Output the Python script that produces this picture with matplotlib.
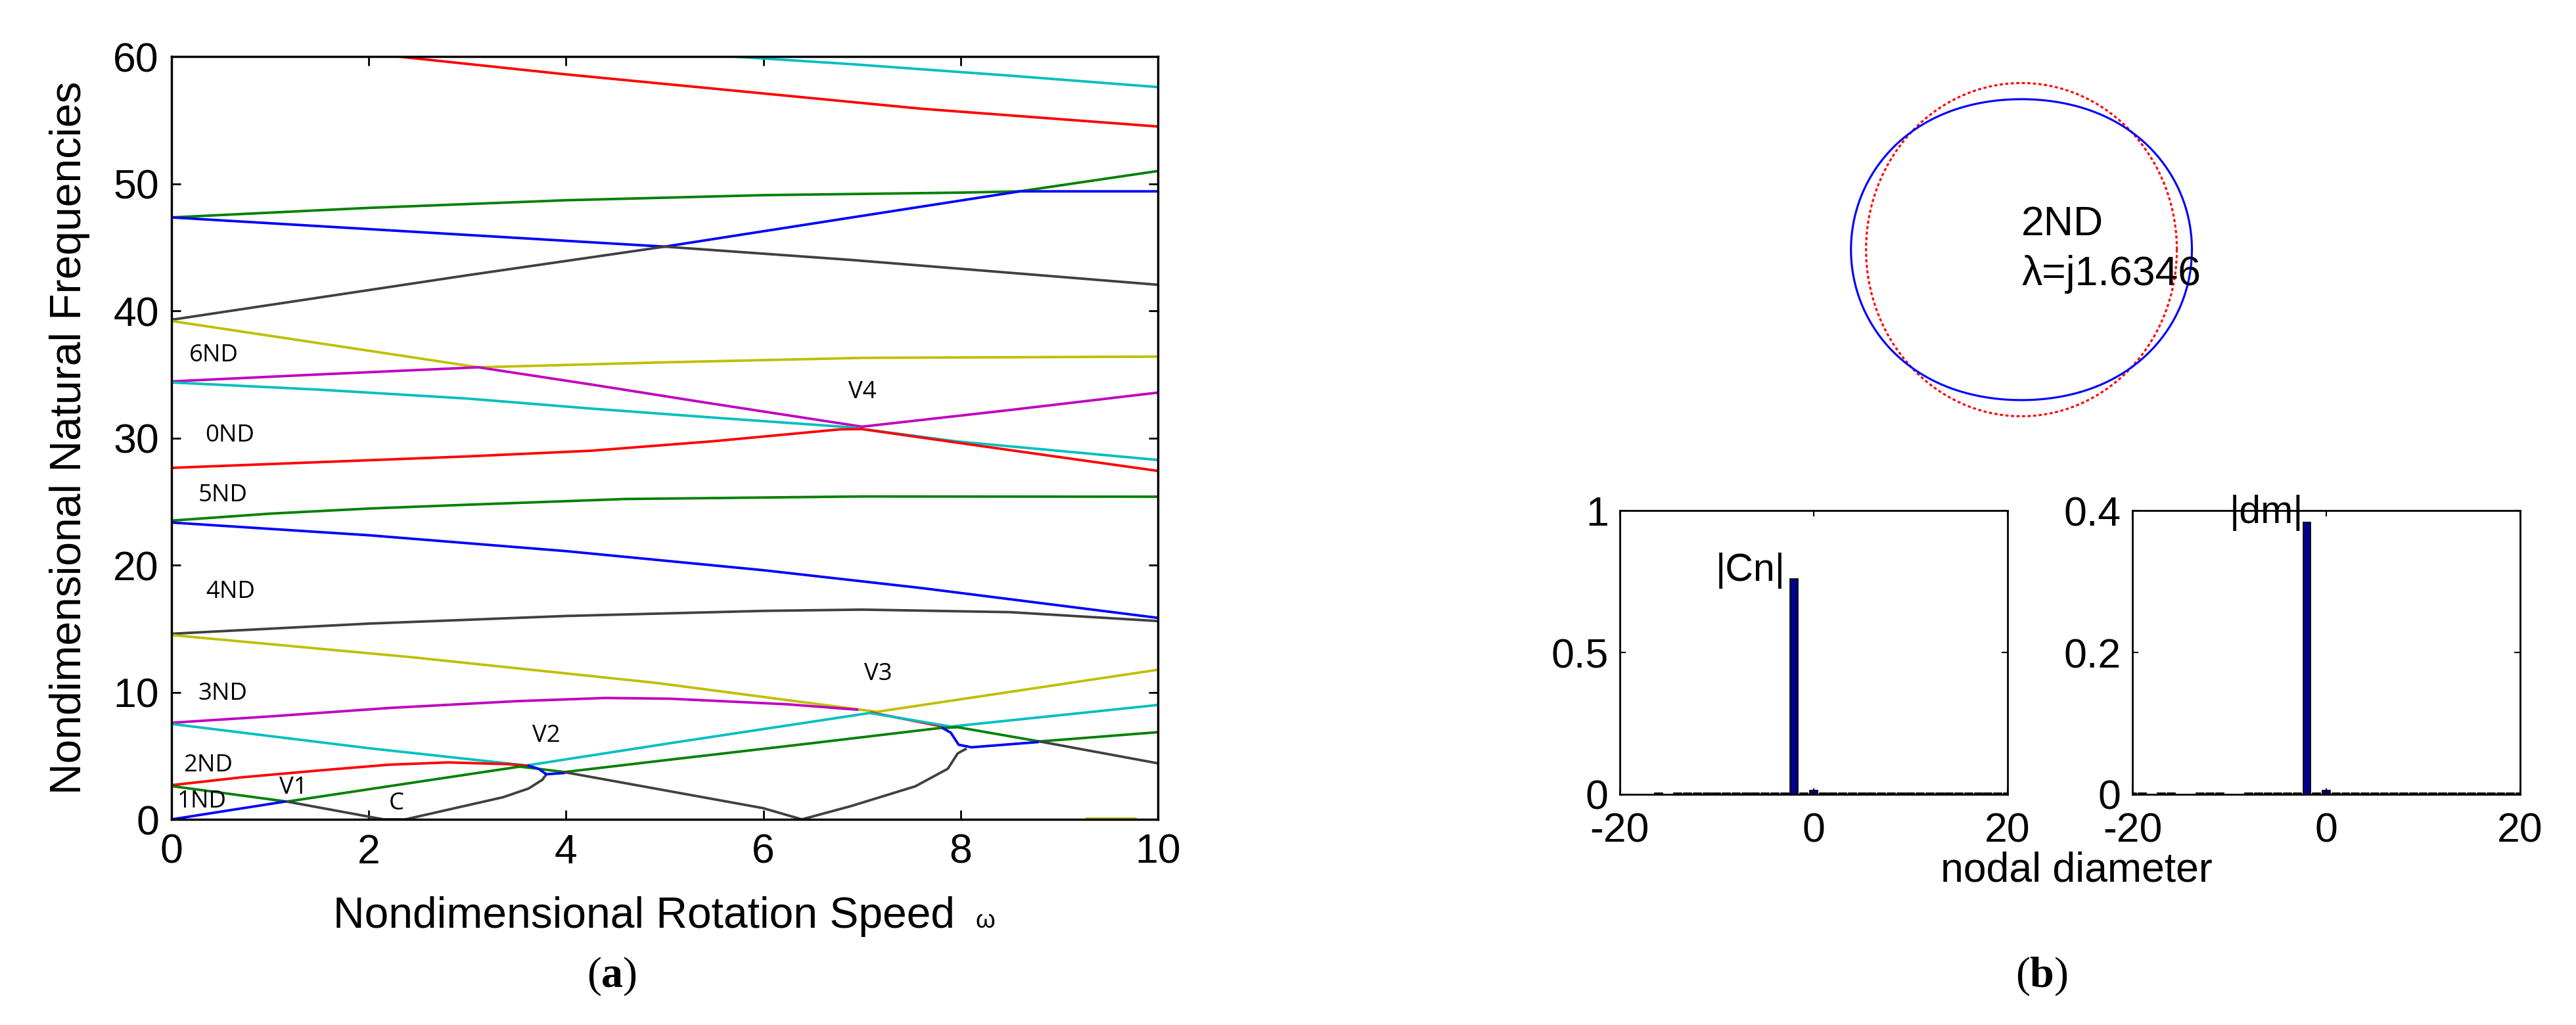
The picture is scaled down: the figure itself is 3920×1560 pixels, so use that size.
import numpy as np
import matplotlib
matplotlib.use("Agg")
import matplotlib.pyplot as plt

plt.rcParams["font.family"] = ["Liberation Sans", "DejaVu Sans"]
plt.rcParams["mathtext.fontset"] = "custom"
plt.rcParams["mathtext.rm"] = "Liberation Serif"
plt.rcParams["mathtext.bf"] = "Liberation Serif:bold"
plt.rcParams["axes.unicode_minus"] = False

BLUE, GREEN, RED = "#0000ff", "#008000", "#ff0000"
CYAN, MAGENTA, YELLOW, GRAY = "#00bfbf", "#bf00bf", "#bfbf00", "#404040"

# --- (a) natural frequency branches vs rotation speed ---
red_top_x = [2.3, 4.0, 6.0, 7.6, 10.0]
red_top_y = [60.0, 58.6, 57.1, 55.9, 54.5]
cyan_top_x = [5.7, 6.9, 8.5, 10.0]
cyan_top_y = [60.0, 59.4, 58.5, 57.6]
green_top_x = [0.0, 2.0, 4.0, 6.0, 8.0, 8.6, 10.0]
green_top_y = [47.35, 48.1, 48.7, 49.1, 49.3, 49.4, 51.0]
blue_top_x = [0.0, 2.5, 5.0, 6.9, 8.6, 10.0]
blue_top_y = [47.35, 46.2, 45.05, 47.35, 49.4, 49.4]
gray_top_x = [0.0, 3.0, 5.0, 6.9, 10.0]
gray_top_y = [39.3, 42.8, 45.05, 44.0, 42.05]
yellow_6_x = [0.0, 1.5, 3.11, 5.0, 7.0, 10.0]
yellow_6_y = [39.2, 37.45, 35.56, 35.95, 36.3, 36.4]
magenta_6_x = [0.0, 1.5, 3.11, 4.26, 5.4, 7.0, 8.5, 10.0]
magenta_6_y = [34.45, 35.0, 35.56, 34.2, 32.8, 30.89, 32.2, 33.57]
cyan_0_x = [0.0, 1.5, 3.0, 4.26, 5.5, 6.85, 7.96, 10.0]
cyan_0_y = [34.37, 33.8, 33.1, 32.31, 31.6, 30.86, 29.73, 28.27]
red_0_x = [0.0, 3.0, 4.26, 5.5, 6.78, 7.0, 7.95, 9.0, 10.0]
red_0_y = [27.65, 28.55, 29.0, 29.75, 30.68, 30.7, 29.65, 28.5, 27.41]
green_5_x = [0.0, 1.0, 2.0, 3.0, 4.6, 7.0, 10.0]
green_5_y = [23.5, 24.05, 24.45, 24.75, 25.2, 25.4, 25.38]
blue_4_x = [0.0, 2.0, 4.0, 6.0, 7.6, 10.0]
blue_4_y = [23.35, 22.35, 21.1, 19.6, 18.2, 15.85]
gray_4_x = [0.0, 2.0, 4.0, 6.0, 7.0, 8.5, 10.0]
gray_4_y = [14.6, 15.4, 16.0, 16.4, 16.5, 16.3, 15.6]
yellow_3_x = [0.0, 2.43, 4.92, 7.15, 10.0]
yellow_3_y = [14.5, 12.76, 10.73, 8.46, 11.77]
magenta_3_x = [0.0, 1.0, 2.22, 3.5, 4.4, 5.06, 6.23, 6.95]
magenta_3_y = [7.6, 8.1, 8.77, 9.3, 9.55, 9.49, 9.06, 8.63]
red_3_x = [7.1, 7.87]
red_3_y = [8.4, 7.22]
cyan_3_x = [0.0, 1.0, 2.0, 3.0, 3.6, 5.06, 7.08, 7.9, 10.0]
cyan_3_y = [7.51, 6.55, 5.6, 4.75, 4.24, 6.0, 8.37, 7.3, 9.0]
red_2_x = [0.0, 0.7, 1.5, 2.2, 2.8, 3.4, 3.6]
red_2_y = [2.69, 3.3, 3.85, 4.3, 4.48, 4.35, 4.22]
green_1_x = [0.0, 1.17, 2.3, 3.53, 3.75, 3.98, 5.0, 6.5, 7.77, 7.97, 8.8, 10.0]
green_1_y = [2.62, 1.40, 2.72, 4.15, 3.95, 3.72, 4.65, 6.0, 7.17, 7.25, 6.13, 6.86]
blue_1_x = [0.0, 1.15]
blue_1_y = [0.0, 1.4]
gray_c_x = [1.17, 2.15, 2.37, 2.87, 3.36, 3.62, 3.76, 3.80]
gray_c_y = [1.40, 0.0, 0.0, 0.88, 1.74, 2.43, 3.12, 3.55]
blue_v2_x = [3.62, 3.72, 3.80, 3.98]
blue_v2_y = [4.22, 3.98, 3.55, 3.65]
gray_mid_x = [3.98, 4.92, 6.0, 6.39]
gray_mid_y = [3.72, 2.4, 0.88, 0.0]
gray_v3_x = [6.39, 6.89, 7.54, 7.87, 7.97, 8.05]
gray_v3_y = [0.0, 1.05, 2.6, 3.98, 5.19, 5.53]
blue_v3_x = [7.82, 7.90, 7.98, 8.11, 8.78]
blue_v3_y = [7.17, 6.82, 5.87, 5.67, 6.08]
gray_end_x = [8.8, 10.0]
gray_end_y = [6.13, 4.41]
yellow_low_x = [9.28, 9.77]
yellow_low_y = [0.08, 0.08]

branches = [
    (red_top_x, red_top_y, RED), (cyan_top_x, cyan_top_y, CYAN),
    (green_top_x, green_top_y, GREEN), (blue_top_x, blue_top_y, BLUE),
    (gray_top_x, gray_top_y, GRAY), (yellow_6_x, yellow_6_y, YELLOW),
    (magenta_6_x, magenta_6_y, MAGENTA), (cyan_0_x, cyan_0_y, CYAN),
    (red_0_x, red_0_y, RED), (green_5_x, green_5_y, GREEN),
    (blue_4_x, blue_4_y, BLUE), (gray_4_x, gray_4_y, GRAY),
    (yellow_3_x, yellow_3_y, YELLOW), (magenta_3_x, magenta_3_y, MAGENTA),
    (red_3_x, red_3_y, RED), (cyan_3_x, cyan_3_y, CYAN),
    (red_2_x, red_2_y, RED), (green_1_x, green_1_y, GREEN),
    (blue_1_x, blue_1_y, BLUE), (gray_c_x, gray_c_y, GRAY),
    (blue_v2_x, blue_v2_y, BLUE), (gray_mid_x, gray_mid_y, GRAY),
    (gray_v3_x, gray_v3_y, GRAY), (blue_v3_x, blue_v3_y, BLUE),
    (gray_end_x, gray_end_y, GRAY), (yellow_low_x, yellow_low_y, YELLOW),
]

mode_labels = ["6ND", "0ND", "5ND", "4ND", "3ND", "2ND", "1ND"]
mode_label_x = [0.18, 0.34, 0.27, 0.35, 0.27, 0.12, 0.06]
mode_label_y = [36.5, 30.2, 25.5, 17.9, 9.9, 4.25, 1.4]
veer_labels = ["V1", "C", "V2", "V3", "V4"]
veer_label_x = [1.09, 2.2, 3.66, 7.02, 6.86]
veer_label_y = [2.5, 1.24, 6.56, 11.4, 33.6]

# --- (b) mode shape and spectra ---
mode_name = "2ND"
mode_lambda = "λ=j1.6346"
nodal_count = 2
mode_amplitude = 0.097

nd = list(range(-20, 21))
cn_values = [0, 0, 0, 0, 0.005, 0] + [0.005] * 12 + [0.76, 0.005, 0.015] + [0.005] * 20
dm_values = ([0.002, 0.002, 0, 0.002, 0.002, 0, 0, 0.002, 0.002, 0.002, 0, 0]
             + [0.002] * 6 + [0.383, 0.002, 0.006] + [0.002] * 20)

fig = plt.figure(figsize=(15.68, 6.24), dpi=250)

ax = fig.add_axes([0.0666, 0.2006, 0.3829, 0.7442])
for bx, by, col in branches:
    ax.plot(bx, by, color=col, linewidth=1.1, solid_joinstyle="round")
ax.set_xlim(0, 10)
ax.set_ylim(0, 60)
ax.set_xticks(range(0, 11, 2))
ax.set_yticks(range(0, 61, 10))
ax.tick_params(direction="in", length=4, width=0.8, top=True, right=True,
               labelsize=18)
ax.tick_params(axis="x", pad=6)
ax.tick_params(axis="y", pad=5.5)
for sp in ax.spines.values():
    sp.set_linewidth(1.0)
for lab, lx, ly in zip(mode_labels, mode_label_x, mode_label_y):
    ax.text(lx, ly, lab, fontsize=10.5, family="Open Sans", va="center", ha="left")
for lab, lx, ly in zip(veer_labels, veer_label_x, veer_label_y):
    ax.text(lx, ly, lab, fontsize=10.5, family="Open Sans", va="center", ha="left")

fig.text(980 / 3920, 1 - 1412 / 1560, "Nondimensional Rotation Speed",
         fontsize=19, ha="center", va="baseline")
fig.text(1485 / 3920, 1 - 1412 / 1560, "ω", fontsize=11, ha="left", va="baseline")
fig.text(106 / 3920, 1 - 666 / 1560, "Nondimensional Natural Frequencies",
         fontsize=19, rotation=90, ha="center", va="center")
fig.text(931 / 3920, 1 - 1486 / 1560, r"($\mathbf{a}$)", fontsize=19,
         family="Liberation Serif", ha="center", va="center")
fig.text(3107 / 3920, 1 - 1486 / 1560, r"($\mathbf{b}$)", fontsize=19,
         family="Liberation Serif", ha="center", va="center")

# mode shape
axc = fig.add_axes([0.6888, 0.5513, 0.1913, 0.4103])
theta = np.linspace(0, 2 * np.pi, 721)
r_shape = 1 + mode_amplitude * np.cos(nodal_count * theta)
axc.plot(np.cos(theta), np.sin(theta), color=RED, linewidth=0.9,
         linestyle=(0, (1.5, 1.2)))
axc.plot(r_shape * np.cos(theta), r_shape * np.sin(theta), color=BLUE, linewidth=0.9)
axc.set_xlim(-1.590, 1.581)
axc.set_ylim(-1.262, 1.262)
axc.axis("off")
axc.text(0.0, 0.15, mode_name, fontsize=18, ha="left", va="center")
axc.text(0.0, -0.15, mode_lambda, fontsize=18, ha="left", va="center")

bar_color = "#00008f"
ax1 = fig.add_axes([0.6288, 0.225, 0.1505, 0.2769])
ax1.bar(nd, cn_values, width=0.8, color=bar_color, edgecolor="black", linewidth=0.5)
ax1.set_xlim(-20, 20)
ax1.set_ylim(0, 1)
ax1.set_yticks([0, 0.5, 1])
ax1.set_yticklabels(["0", "0.5", "1"])
ax1.text(-2.9, 0.789, "|Cn|", fontsize=17, ha="right", va="center")

ax2 = fig.add_axes([0.8278, 0.225, 0.1505, 0.2769])
ax2.bar(nd, dm_values, width=0.8, color=bar_color, edgecolor="black", linewidth=0.5)
ax2.set_xlim(-20, 20)
ax2.set_ylim(0, 0.4)
ax2.set_yticks([0, 0.2, 0.4])
ax2.set_yticklabels(["0", "0.2", "0.4"])
ax2.text(-2.37, 0.397, "|dm|", fontsize=17, ha="right", va="center")

for a in (ax1, ax2):
    a.set_xticks([-20, 0, 20])
    a.tick_params(direction="in", length=2.5, width=0.6, top=True, right=True,
                  labelsize=18, pad=5)
    a.tick_params(axis="x", pad=7.5)
    for sp in a.spines.values():
        sp.set_linewidth(0.8)

fig.text(3160 / 3920, 1 - 1325 / 1560, "nodal diameter", fontsize=18,
         ha="center", va="center")

fig.savefig("out.png", dpi=250)
